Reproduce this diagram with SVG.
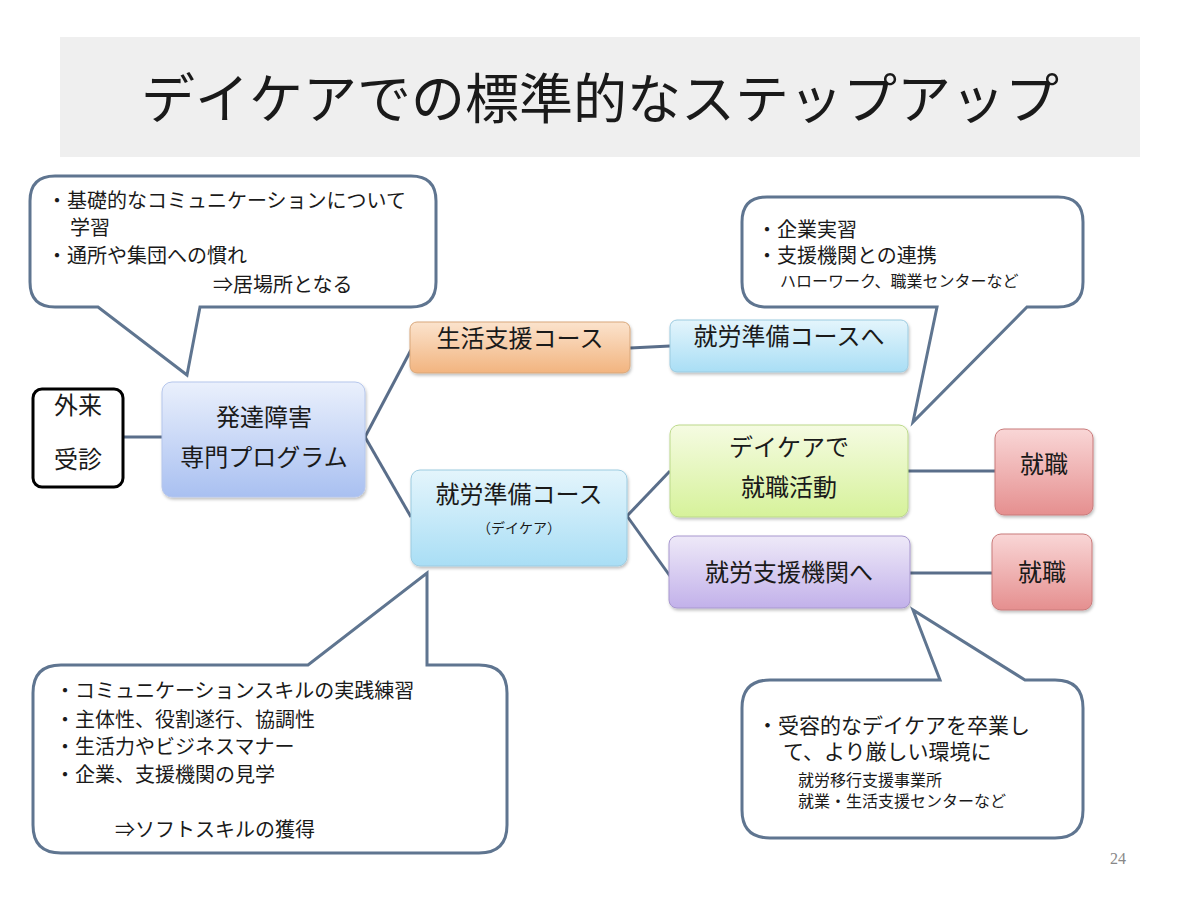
<svg xmlns="http://www.w3.org/2000/svg" width="1200" height="900" viewBox="0 0 1200 900">
<defs>
<style>
text{font-family:"Liberation Serif","Noto Sans CJK JP",serif;fill:#1a1a1a}
.t20{font-size:20px}
.t15{font-size:16px}
.node{font-size:24px;text-anchor:middle}
.call{fill:#fff;stroke:#5f7590;stroke-width:3;stroke-linejoin:miter}
.conn{stroke:#5a6e8a;stroke-width:3;fill:none}
</style>
<linearGradient id="gBlue" x1="0" y1="0" x2="0" y2="1"><stop offset="0" stop-color="#eaf0fc"/><stop offset="1" stop-color="#a9c0f1"/></linearGradient>
<linearGradient id="gOrange" x1="0" y1="0" x2="0" y2="1"><stop offset="0" stop-color="#fbe3cd"/><stop offset="1" stop-color="#f2b47f"/></linearGradient>
<linearGradient id="gCyan" x1="0" y1="0" x2="0" y2="1"><stop offset="0" stop-color="#e4f5fc"/><stop offset="1" stop-color="#a9def5"/></linearGradient>
<linearGradient id="gGreen" x1="0" y1="0" x2="0" y2="1"><stop offset="0" stop-color="#f5fbe2"/><stop offset="1" stop-color="#d6f29a"/></linearGradient>
<linearGradient id="gPurple" x1="0" y1="0" x2="0" y2="1"><stop offset="0" stop-color="#eee9f8"/><stop offset="1" stop-color="#c2b1ea"/></linearGradient>
<linearGradient id="gRed" x1="0" y1="0" x2="0" y2="1"><stop offset="0" stop-color="#f9d6d6"/><stop offset="1" stop-color="#e58f8f"/></linearGradient>
<filter id="sh" x="-10%" y="-10%" width="130%" height="140%"><feDropShadow dx="1" dy="2" stdDeviation="1.5" flood-color="#000" flood-opacity="0.25"/></filter>
</defs>
<rect width="1200" height="900" fill="#fff"/>
<g id="title">
<rect x="60" y="37" width="1080" height="120" fill="#efefef"/>
<text x="600" y="119" font-size="54" text-anchor="middle">デイケアでの標準的なステップアップ</text>
</g>
<g id="connectors">
<line class="conn" x1="123" y1="437" x2="162" y2="437"/>
<line class="conn" x1="365" y1="437" x2="411" y2="350"/>
<line class="conn" x1="365" y1="437" x2="411" y2="517"/>
<line class="conn" x1="630" y1="348" x2="670" y2="346"/>
<line class="conn" x1="627" y1="516" x2="670" y2="471"/>
<line class="conn" x1="627" y1="516" x2="670" y2="576"/>
<line class="conn" x1="908" y1="471" x2="995" y2="471"/>
<line class="conn" x1="910" y1="573" x2="992" y2="573"/>
</g>
<g id="callout-top-left">
<path class="call" d="M55,176 H411 Q436,176 436,201 V282 Q436,307 411,307 H200 L187,375 L98,307 H55 Q30,307 30,282 V201 Q30,176 55,176 Z"/>
<text class="t20" x="47" y="208">・基礎的なコミュニケーションについて</text>
<text class="t20" x="70" y="235">学習</text>
<text class="t20" x="47" y="263">・通所や集団への慣れ</text>
<text class="t20" x="213" y="292">⇒居場所となる</text>
</g>
<g id="callout-top-right">
<path class="call" d="M767,197 H1058 Q1083,197 1083,222 V282 Q1083,307 1058,307 H1027 L913,422 L937,307 H767 Q742,307 742,282 V222 Q742,197 767,197 Z"/>
<text class="t20" x="757" y="237">・企業実習</text>
<text class="t20" x="757" y="263">・支援機関との連携</text>
<text class="t15" x="780" y="287">ハローワーク、職業センターなど</text>
</g>
<g id="callout-bottom-left">
<path class="call" d="M61,665 H308 L427,573 V665 H479 Q507,665 507,693 V825 Q507,853 479,853 H61 Q33,853 33,825 V693 Q33,665 61,665 Z"/>
<text class="t20" x="55" y="698">・コミュニケーションスキルの実践練習</text>
<text class="t20" x="55" y="727">・主体性、役割遂行、協調性</text>
<text class="t20" x="55" y="754">・生活力やビジネスマナー</text>
<text class="t20" x="55" y="782">・企業、支援機関の見学</text>
<text class="t20" x="115" y="837">⇒ソフトスキルの獲得</text>
</g>
<g id="callout-bottom-right">
<path class="call" d="M770,680 H940 L913,610 L1025,680 H1055 Q1083,680 1083,708 V810 Q1083,838 1055,838 H770 Q742,838 742,810 V708 Q742,680 770,680 Z"/>
<text x="757" y="733" font-size="21">・受容的なデイケアを卒業し</text>
<text x="783" y="759" font-size="21">て、より厳しい環境に</text>
<text class="t15" x="798" y="786">就労移行支援事業所</text>
<text class="t15" x="798" y="807">就業・生活支援センターなど</text>
</g>
<g id="node-gairai">
<rect x="33" y="389" width="90" height="98" rx="9" fill="#fff" stroke="#000" stroke-width="3"/>
<text class="node" x="78" y="414">外来</text>
<text class="node" x="78" y="468">受診</text>
</g>
<g id="node-hattatsu">
<rect x="162" y="382" width="203" height="115" rx="10" fill="url(#gBlue)" stroke="#b5c6ec" stroke-width="1" filter="url(#sh)"/>
<text class="node" x="264" y="426">発達障害</text>
<text class="node" x="264" y="466">専門プログラム</text>
</g>
<g id="node-seikatsu">
<rect x="410" y="322" width="220" height="51" rx="7" fill="url(#gOrange)" stroke="#d9a77a" stroke-width="1" filter="url(#sh)"/>
<text class="node" x="520" y="347">生活支援コース</text>
</g>
<g id="node-shuro-he">
<rect x="670" y="320" width="238" height="52" rx="7" fill="url(#gCyan)" stroke="#9ccbe0" stroke-width="1" filter="url(#sh)"/>
<text class="node" x="789" y="345">就労準備コースへ</text>
</g>
<g id="node-shuro">
<rect x="411" y="470" width="216" height="96" rx="9" fill="url(#gCyan)" stroke="#9ccbe0" stroke-width="1" filter="url(#sh)"/>
<text class="node" x="519" y="503">就労準備コース</text>
<text x="519" y="533" font-size="14" text-anchor="middle">（デイケア）</text>
</g>
<g id="node-daycare">
<rect x="670" y="425" width="238" height="92" rx="9" fill="url(#gGreen)" stroke="#bcd98a" stroke-width="1" filter="url(#sh)"/>
<text class="node" x="789" y="456">デイケアで</text>
<text class="node" x="789" y="496">就職活動</text>
</g>
<g id="node-kikan">
<rect x="669" y="536" width="241" height="72" rx="8" fill="url(#gPurple)" stroke="#a898cf" stroke-width="1" filter="url(#sh)"/>
<text class="node" x="789" y="581">就労支援機関へ</text>
</g>
<g id="node-shushoku1">
<rect x="995" y="429" width="98" height="86" rx="9" fill="url(#gRed)" stroke="#c97a7a" stroke-width="1" filter="url(#sh)"/>
<text class="node" x="1044" y="473">就職</text>
</g>
<g id="node-shushoku2">
<rect x="992" y="534" width="100" height="76" rx="9" fill="url(#gRed)" stroke="#c97a7a" stroke-width="1" filter="url(#sh)"/>
<text class="node" x="1042" y="581">就職</text>
</g>
<text x="1118" y="864" font-size="16" text-anchor="middle" style="fill:#888">24</text>
</svg>
